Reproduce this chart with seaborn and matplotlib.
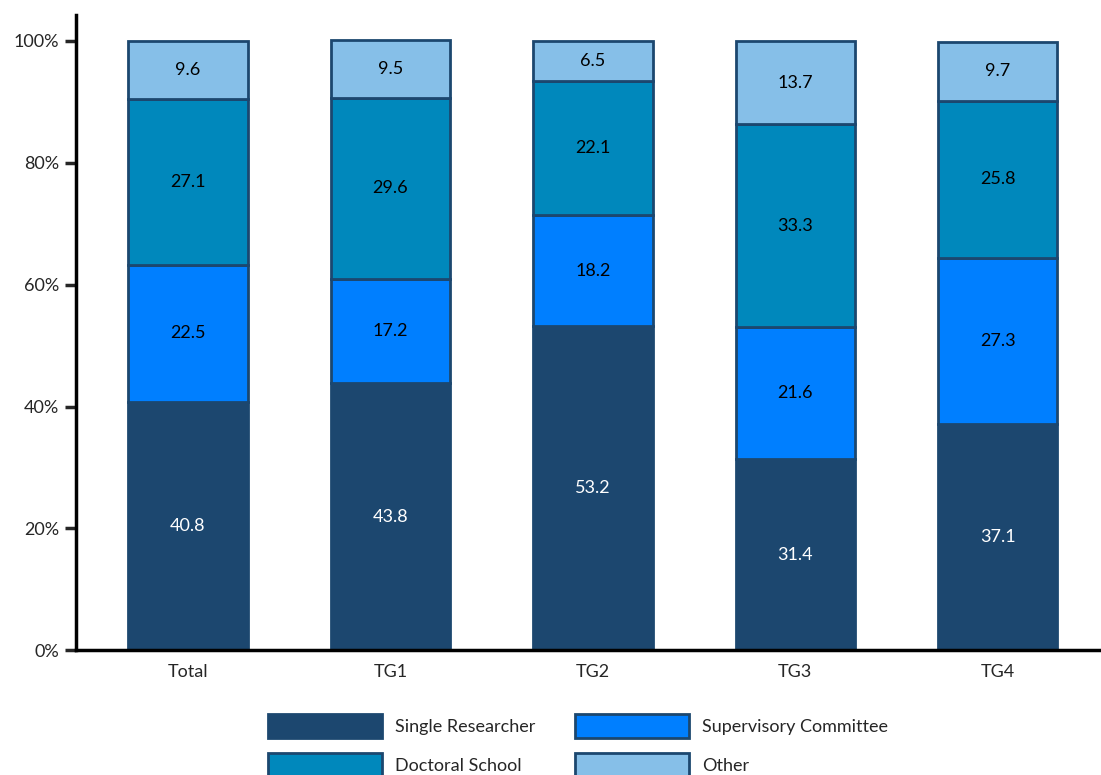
import numpy as np
import pandas as pd
import matplotlib
matplotlib.use("Agg")
import matplotlib.pyplot as plt
import matplotlib.patches as mpatches
from matplotlib.ticker import PercentFormatter
import seaborn as sns

# ---------------- data ----------------
groups = ["Total", "TG1", "TG2", "TG3", "TG4"]
series_names = ["Single Researcher", "Supervisory Committee", "Doctoral School", "Other"]
single_researcher = [40.8, 43.8, 53.2, 31.4, 37.1]
supervisory_committee = [22.5, 17.2, 18.2, 21.6, 27.3]
doctoral_school = [27.1, 29.6, 22.1, 33.3, 25.8]
other = [9.6, 9.5, 6.5, 13.7, 9.7]

colors = ["#1C476F", "#007FFF", "#0088BC", "#86BFE8"]
label_colors = ["white", "black", "black", "black"]
edge_color = "#1C476F"

sns.set_style("white")
plt.rcParams["font.family"] = ["Lato", "DejaVu Sans"]

fig = plt.figure(figsize=(11.01, 7.75), dpi=100)
ax = fig.add_axes([0.069, 0.161, 0.931, 0.820])

# stacked bars: one barplot call per series, using bottom= for stacking
series = [single_researcher, supervisory_committee, doctoral_school, other]
bottom = np.zeros(len(groups))
for name, vals, col, lcol in zip(series_names, series, colors, label_colors):
    df = pd.DataFrame({"group": groups, "value": vals})
    sns.barplot(data=df, x="group", y="value", order=groups, color=col,
                width=0.59, bottom=bottom.copy(), edgecolor=edge_color,
                linewidth=2, errorbar=None, saturation=1, ax=ax)
    cont = ax.containers[-1]
    ax.bar_label(cont, labels=[f"{v:.1f}" for v in vals], label_type="center",
                 color=lcol, fontsize=13)
    bottom += np.array(vals)

ax.set_xlim(-0.553, 4.51)
ax.set_ylim(0, 104.3)
ax.set_yticks([0, 20, 40, 60, 80, 100])
ax.yaxis.set_major_formatter(PercentFormatter(decimals=0))
ax.set_xlabel("")
ax.set_ylabel("")
sns.despine(ax=ax)
for s in ["left", "bottom"]:
    ax.spines[s].set_linewidth(2.5)
    ax.spines[s].set_color("black")
ax.tick_params(axis="y", length=8, width=2.5, labelsize=13, pad=4, left=True)
ax.tick_params(axis="x", length=0, labelsize=13, pad=10)

handles = [mpatches.Patch(facecolor=colors[i], edgecolor=edge_color, linewidth=2,
                          label=series_names[i]) for i in [0, 2, 1, 3]]
fig.legend(handles=handles, loc="upper left", bbox_to_anchor=(0.235, 0.090),
           ncol=2, frameon=False, fontsize=13, handlelength=6.3, handleheight=1.65,
           handletextpad=0.75, columnspacing=2.2, labelspacing=0.85, borderpad=0)

fig.savefig("out.png", dpi=100)
